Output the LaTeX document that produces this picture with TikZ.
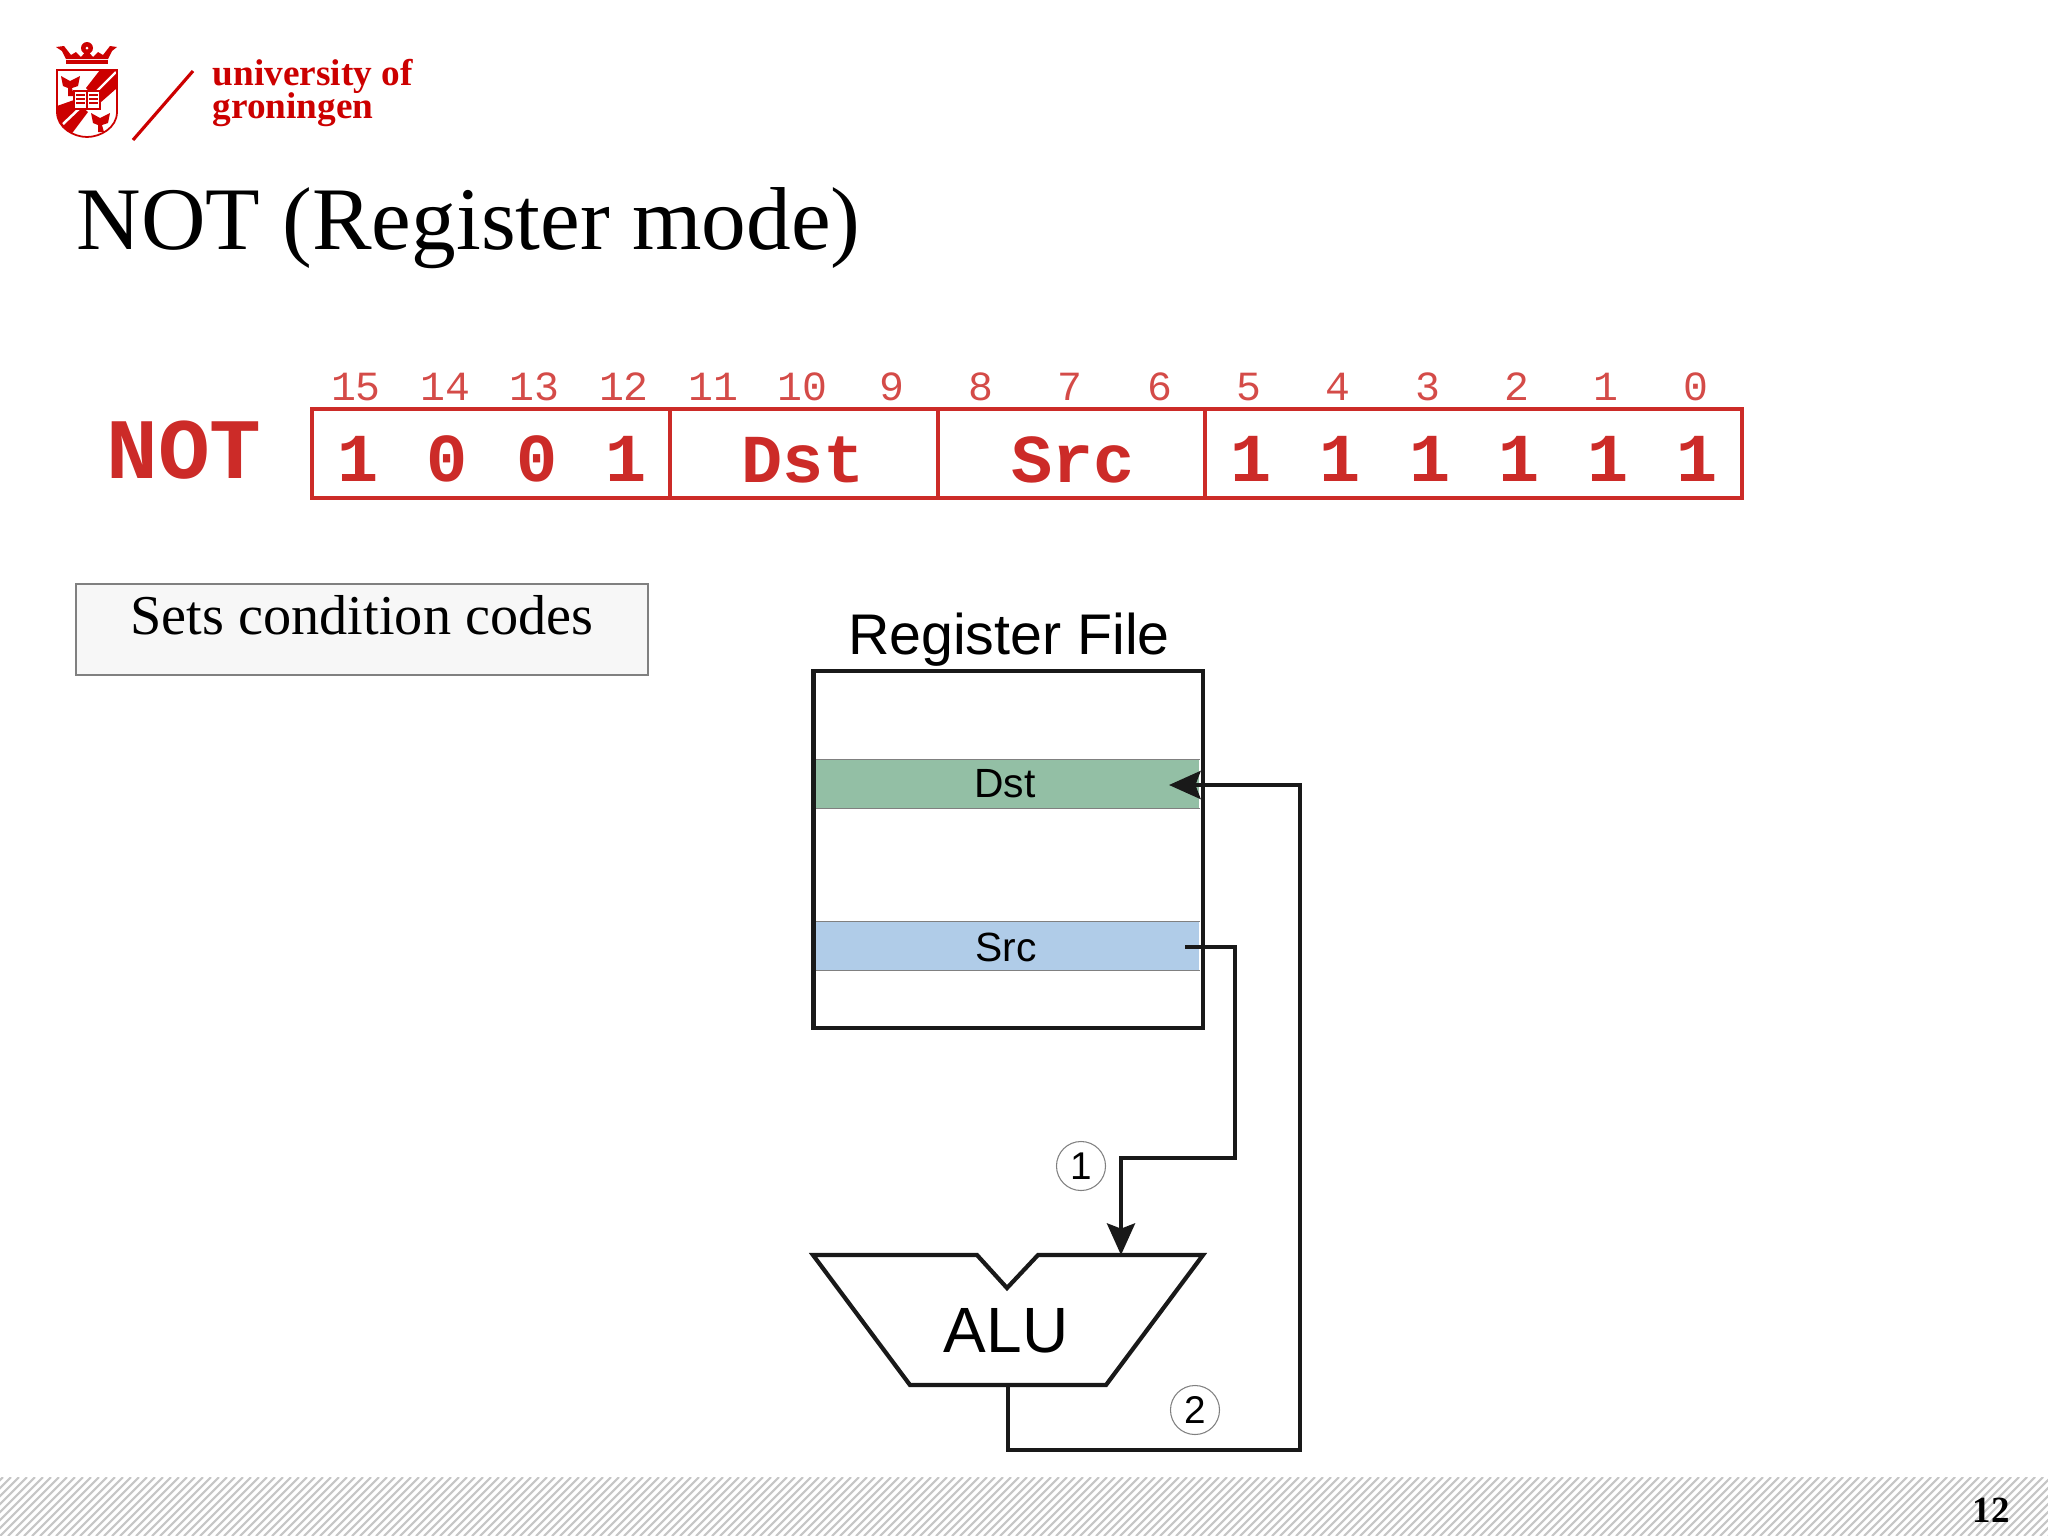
\documentclass[tikz,border=0pt]{standalone}
\usepackage{fontspec}
\setmainfont{Liberation Serif}
\setsansfont{Liberation Sans}
\setmonofont{Liberation Mono}
\usetikzlibrary{arrows.meta}
\definecolor{rugred}{HTML}{CC0000}
\definecolor{fieldred}{HTML}{CC2B28}
\definecolor{dstgreen}{HTML}{93BFA5}
\definecolor{srcblue}{HTML}{B0CCE8}
\tikzset{
 bitnum/.style={text=fieldred!85,font=\ttfamily\fontsize{11.8}{11.8}\selectfont,inner sep=0pt},
 bitval/.style={text=fieldred,font=\ttfamily\bfseries\fontsize{19.5}{19.5}\selectfont,inner sep=0pt},
 field/.style={draw=fieldred,line width=1.1pt},
 band/.style={line width=0.4pt,minimum width=3.84cm,minimum height=0.48cm,inner sep=0pt},
 wire/.style={line width=1pt,black!90},
 stepnum/.style={circle,draw=gray,line width=0.3pt,minimum size=0.49cm,inner sep=0pt,
  font=\sffamily\fontsize{11}{11}\selectfont}
}
\begin{document}
\begin{tikzpicture}[x=0.01cm,y=-0.01cm]
 \useasboundingbox (0,0) rectangle (2048,1536);
 % footer
 \begin{scope}
  \clip (0,1477) rectangle (2048,1536);
  \foreach \x in {-64,-56,...,2048}
   \draw[gray!45,line width=0.6pt] (\x,1536)--(\x+59,1477);
 \end{scope}
 \node (pagenum) at (1991,1510) {\bfseries\fontsize{10.5}{10.5}\selectfont 12};
 % logo
 \begin{scope}
  \clip (57,70)--(117,70)--(117,112) .. controls (117,128) and (100,137) .. (87,137)
   .. controls (74,137) and (57,128) .. (57,112)--cycle;
  \fill[rugred] (86,88)--(100,70)--(117,70)--(117,88)--(100,103)--cycle;
  \fill[rugred] (57,106)--(74,100)--(88,112)--(70,136)--(57,126)--cycle;
  \draw[white,line width=0.7pt] (93,95)--(116,72);
  \draw[white,line width=0.7pt] (63,124)--(82,106);
 \end{scope}
 \draw[rugred,line width=0.5pt] (57,70)--(117,70)--(117,112) .. controls (117,128) and (100,137) .. (87,137)
   .. controls (74,137) and (57,128) .. (57,112)--cycle;
 \fill[rugred] (61,76)--(70,81)--(80,76)--(78,86)--(72,88)--(74,96)--(68,96)--(68,88)--(63,86)--cycle;
 \fill[rugred] (91,113)--(100,118)--(110,113)--(108,123)--(102,125)--(104,132)--(98,132)--(98,125)--(93,123)--cycle;
 \filldraw[fill=white,draw=rugred,line width=0.3pt] (74,91) rectangle (100,109);
 \draw[rugred,line width=0.3pt] (87,91)--(87,109);
 \foreach \l in {95,99,103} {
  \draw[rugred,line width=0.4pt] (76,\l)--(85,\l);
  \draw[rugred,line width=0.4pt] (89,\l)--(98,\l);
 }
 \fill[rugred] (66,60) rectangle (108,64);
 \fill[rugred] (66,59)--(108,59)--(112,51)--(117,47)--(110,46)--(103,55)--(98,52)--(93,57)
  --(87,50)--(81,57)--(76,52)--(71,55)--(64,46)--(56,47)--(62,51)--cycle;
 \fill[rugred] (87,48) circle (6);
 \fill[white] (87,48) circle (1.5);
 \node[anchor=base west,inner sep=0pt,text=rugred,align=left,font=\bfseries\fontsize{10.6}{8.5}\selectfont] (logotext) at (212,118) {university of\\[-1.5pt]groningen};
 \draw[rugred,line width=0.9pt] (133,140)--(193,71);
 % title
 \node[anchor=base west,inner sep=0pt] (title) at (76,249) {\fontsize{25.4}{25.4}\selectfont NOT (Register mode)};
 % instruction format
 \node[text=fieldred,inner sep=0pt] (notlabel) at (184,450) {\ttfamily\bfseries\fontsize{24.5}{24.5}\selectfont NOT};
 \draw[field] (312,409) rectangle (1742,498);
 \draw[field] (670,409)--(670,498);
 \draw[field] (938,409)--(938,498);
 \draw[field] (1205,409)--(1205,498);
 \foreach \n [count=\i from 0] in {15,14,...,0}
  \node[bitnum] (bit\n) at (356+89.3*\i,387) {\n};
 \foreach \v/\i in {1/0,0/1,0/2,1/3,1/10,1/11,1/12,1/13,1/14,1/15}
  \node[bitval] (val\i) at (358+89.3*\i,459) {\v};
 \node[bitval] (dstfield) at (803,460) {Dst};
 \node[bitval] (srcfield) at (1073,460) {Src};
 % note
 \node[draw=gray,line width=0.6pt,fill=black!3,minimum width=5.72cm,minimum height=0.91cm,inner sep=0pt] (notebox) at (362,629.5) {};
 \node[anchor=base,inner sep=0pt] (note) at (362,634) {\fontsize{16}{16}\selectfont Sets condition codes};
 % register file
 \node[anchor=base,inner sep=0pt] (regtitle) at (1009,654) {\sffamily\fontsize{16.3}{16.3}\selectfont Register File};
 \node[band,fill=dstgreen] (regdst) at (1007,784) {};
 \node[band,fill=srcblue] (regsrc) at (1007,946) {};
 \draw[gray,line width=0.4pt] (regdst.north west)--(regdst.north east) (regdst.south west)--(regdst.south east);
 \draw[gray,line width=0.4pt] (regsrc.north west)--(regsrc.north east) (regsrc.south west)--(regsrc.south east);
 \node[font=\sffamily\fontsize{11.6}{11.6}\selectfont,inner sep=0pt] (dstname) at (1005,784) {Dst};
 \node[font=\sffamily\fontsize{11.6}{11.6}\selectfont,inner sep=0pt] (srcname) at (1006,947) {Src};
 \node[draw,line width=1.2pt,black!90,minimum width=3.89cm,minimum height=3.57cm,inner sep=0pt] (regfile) at (1008,849.5) {};
 % alu
 \draw[line width=1.2pt,black!90] (813,1255)--(977,1255)--(1007,1288)--(1038,1255)--(1203,1255)--(1106,1385)--(910,1385)--cycle;
 \node[inner sep=0pt] (alu) at (1006,1331) {\sffamily\fontsize{18.2}{18.2}\selectfont ALU};
 \coordinate (aluin) at (1121,1255);
 \coordinate (aluout) at (1008,1385);
 \coordinate (srcout) at (1185,947);
 \coordinate (dstin) at (1169,785);
 % connectors
 \draw[wire,-{Stealth[length=9pt,width=8pt,inset=1.5pt]}] (srcout)--(1235,947)--(1235,1158)--(1121,1158)--(aluin);
 \draw[wire,-{Stealth[length=9pt,width=8pt,inset=1.5pt]}] (aluout)--(1008,1450)--(1300,1450)--(1300,785)--(dstin);
 \node[stepnum] (stepa) at (1081,1166) {1};
 \node[stepnum] (stepb) at (1195,1410) {2};
\end{tikzpicture}
\end{document}
